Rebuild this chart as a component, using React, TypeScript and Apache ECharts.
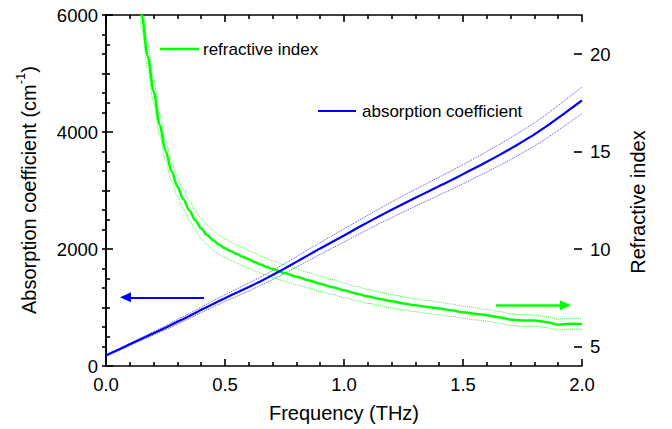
import React, { useEffect, useRef } from "react";
import * as echarts from "echarts";

// Absorption coefficient (cm^-1) vs frequency (THz)
const freqA = [0, 0.05, 0.1, 0.15, 0.2, 0.25, 0.3, 0.35, 0.4, 0.45, 0.5, 0.55, 0.6, 0.65, 0.7, 0.75, 0.8, 0.85, 0.9, 0.95, 1.0, 1.05, 1.1, 1.15, 1.2, 1.25, 1.3, 1.35, 1.4, 1.45, 1.5, 1.55, 1.6, 1.65, 1.7, 1.75, 1.8, 1.85, 1.9, 1.95, 2.0];
const absMain = [180, 275, 370, 465, 560, 655, 755, 855, 960, 1060, 1160, 1255, 1350, 1450, 1555, 1665, 1780, 1895, 2010, 2120, 2230, 2345, 2455, 2565, 2670, 2775, 2875, 2975, 3075, 3175, 3280, 3385, 3490, 3600, 3715, 3835, 3960, 4095, 4240, 4390, 4540];
const absUpper = [189, 289, 388, 488, 588, 688, 793, 898, 1008, 1113, 1218, 1318, 1418, 1522, 1633, 1748, 1869, 1990, 2110, 2226, 2342, 2462, 2578, 2693, 2804, 2914, 3019, 3124, 3229, 3334, 3444, 3554, 3665, 3780, 3901, 4027, 4158, 4300, 4452, 4610, 4767];
const absLower = [171, 261, 352, 442, 532, 622, 717, 812, 912, 1007, 1102, 1192, 1282, 1378, 1477, 1582, 1691, 1800, 1910, 2014, 2118, 2228, 2332, 2437, 2536, 2636, 2731, 2826, 2921, 3016, 3116, 3216, 3315, 3420, 3529, 3643, 3762, 3890, 4028, 4170, 4313];

// Refractive index vs frequency (THz)
const freqN = [0.14, 0.15, 0.175, 0.2, 0.225, 0.25, 0.275, 0.3, 0.325, 0.35, 0.375, 0.4, 0.425, 0.45, 0.475, 0.5, 0.525, 0.55, 0.575, 0.6, 0.625, 0.65, 0.675, 0.7, 0.75, 0.8, 0.85, 0.9, 0.95, 1.0, 1.05, 1.1, 1.15, 1.2, 1.25, 1.3, 1.35, 1.4, 1.45, 1.5, 1.55, 1.6, 1.65, 1.7, 1.75, 1.8, 1.85, 1.9, 1.95, 2.0];
const nMain = [23.2, 22.0, 19.9, 18.1, 16.4, 15.05, 14.0, 13.2, 12.55, 11.98, 11.48, 11.05, 10.72, 10.45, 10.22, 10.04, 9.88, 9.74, 9.6, 9.47, 9.33, 9.2, 9.08, 8.97, 8.77, 8.58, 8.4, 8.22, 8.05, 7.88, 7.72, 7.57, 7.44, 7.32, 7.21, 7.11, 7.03, 6.95, 6.86, 6.76, 6.68, 6.6, 6.5, 6.38, 6.33, 6.33, 6.25, 6.12, 6.17, 6.16];
const nUpper = [23.9, 22.7, 20.55, 18.7, 16.95, 15.57, 14.5, 13.7, 13.05, 12.48, 11.98, 11.57, 11.22, 10.95, 10.72, 10.52, 10.35, 10.2, 10.06, 9.92, 9.78, 9.64, 9.52, 9.4, 9.19, 8.99, 8.8, 8.61, 8.43, 8.25, 8.08, 7.93, 7.79, 7.66, 7.55, 7.44, 7.36, 7.27, 7.18, 7.07, 6.99, 6.9, 6.8, 6.67, 6.62, 6.62, 6.53, 6.4, 6.45, 6.44];
const nLower = [22.5, 21.3, 19.25, 17.5, 15.85, 14.53, 13.5, 12.7, 12.05, 11.48, 10.98, 10.53, 10.22, 9.95, 9.72, 9.56, 9.41, 9.28, 9.14, 9.02, 8.88, 8.76, 8.64, 8.54, 8.35, 8.17, 8.0, 7.83, 7.67, 7.51, 7.36, 7.21, 7.09, 6.98, 6.87, 6.78, 6.7, 6.63, 6.54, 6.45, 6.37, 6.3, 6.2, 6.09, 6.04, 6.04, 5.97, 5.84, 5.89, 5.88];

const rightMajorTicks = [5, 10, 15, 20];
const seriesNames = ["refractive index", "absorption coefficient"];
// arrows: [fromX, toX, y]
const absArrow = [0.412, 0.082, 1174];
const nArrow = [1.638, 1.931, 7.11];

const FONT = "'Liberation Sans', Arial, Helvetica, sans-serif";
const GREEN = "#00ff00";
const BLUE = "#0000ff";

const pairs = (xs: number[], ys: number[]) => xs.map((x, i) => [x, ys[i]]);

export default function App() {
  const ref = useRef<HTMLDivElement>(null);
  useEffect(() => {
    document.body.style.margin = "0";
    const chart = echarts.init(ref.current!, null, { renderer: "svg" });
    const axisLineStyle = { color: "#000", width: 1.6 };
    const labelStyle = { color: "#000", fontSize: 18.5, fontFamily: FONT };
    const xCommon = {
      type: "value",
      min: 0,
      max: 2,
      interval: 0.5,
      axisLine: { show: true, lineStyle: axisLineStyle },
      axisTick: { show: true, inside: true, length: 7, lineStyle: axisLineStyle },
      minorTick: { show: true, splitNumber: 5, length: 4, lineStyle: axisLineStyle },
      splitLine: { show: false },
      minorSplitLine: { show: false },
    };
    const greenLine = { type: "line", xAxisIndex: 0, showSymbol: false, smooth: 0.3, smoothMonotone: "x" };
    const blueLine = { type: "line", xAxisIndex: 0, showSymbol: false, smooth: 0.2 };
    const option: any = {
      animation: false,
      backgroundColor: "#fff",
      grid: { left: 106, right: 90, top: 15, bottom: 63, containLabel: false, outerBoundsMode: "none" },
      xAxis: [
        {
          ...xCommon,
          position: "bottom",
          axisLabel: { ...labelStyle, margin: 9, formatter: (v: number) => v.toFixed(1) },
        },
        { ...xCommon, position: "top", axisLabel: { show: false } },
      ],
      yAxis: [
        {
          type: "value",
          position: "left",
          min: 0,
          max: 6000,
          interval: 2000,
          axisLine: { show: true, lineStyle: axisLineStyle },
          axisTick: { show: true, inside: true, length: 7, lineStyle: axisLineStyle },
          minorTick: { show: true, splitNumber: 4, length: 4, lineStyle: axisLineStyle },
          axisLabel: { ...labelStyle, margin: 8, formatter: (v: number) => String(v) },
          splitLine: { show: false },
          minorSplitLine: { show: false },
        },
        {
          type: "value",
          position: "right",
          min: 4,
          max: 22,
          interval: 1,
          axisLine: { show: true, lineStyle: axisLineStyle },
          axisTick: { show: true, inside: true, length: 4, lineStyle: axisLineStyle },
          axisLabel: {
            ...labelStyle,
            margin: 8,
            formatter: (v: number) => (rightMajorTicks.includes(v) ? String(v) : ""),
          },
          splitLine: { show: false },
        },
        {
          type: "value",
          position: "right",
          min: 4,
          max: 22,
          axisLine: { show: false },
          axisTick: { show: true, inside: true, length: 8, lineStyle: axisLineStyle, customValues: rightMajorTicks },
          axisLabel: { show: false },
          splitLine: { show: false },
        },
      ],
      series: [
        {
          ...greenLine, yAxisIndex: 1, data: pairs(freqN, nUpper), silent: true,
          lineStyle: { color: GREEN, width: 1, type: "dotted", opacity: 0.8 },
        },
        {
          ...greenLine, yAxisIndex: 1, data: pairs(freqN, nLower), silent: true,
          lineStyle: { color: GREEN, width: 1, type: "dotted", opacity: 0.8 },
        },
        {
          ...blueLine, yAxisIndex: 0, data: pairs(freqA, absUpper), silent: true,
          lineStyle: { color: BLUE, width: 1, type: "dotted", opacity: 0.7 },
        },
        {
          ...blueLine, yAxisIndex: 0, data: pairs(freqA, absLower), silent: true,
          lineStyle: { color: BLUE, width: 1, type: "dotted", opacity: 0.7 },
        },
        {
          ...greenLine, name: seriesNames[0], yAxisIndex: 1, data: pairs(freqN, nMain),
          lineStyle: { color: GREEN, width: 2.5 }, itemStyle: { color: GREEN },
          markLine: {
            silent: true, symbol: ["none", "triangle"], symbolSize: [10, 11],
            label: { show: false },
            lineStyle: { color: GREEN, width: 2.5, type: "solid" },
            itemStyle: { color: GREEN },
            data: [[{ coord: [nArrow[0], nArrow[2]] }, { coord: [nArrow[1], nArrow[2]] }]],
          },
        },
        {
          ...blueLine, name: seriesNames[1], yAxisIndex: 0, data: pairs(freqA, absMain),
          lineStyle: { color: BLUE, width: 2.2 }, itemStyle: { color: BLUE },
          markLine: {
            silent: true, symbol: ["none", "triangle"], symbolSize: [10, 11],
            label: { show: false },
            lineStyle: { color: BLUE, width: 2.2, type: "solid" },
            itemStyle: { color: BLUE },
            data: [[{ coord: [absArrow[0], absArrow[2]] }, { coord: [absArrow[1], absArrow[2]] }]],
          },
        },
      ],
      graphic: [
        { type: "line", shape: { x1: 160, y1: 49, x2: 199, y2: 49 }, style: { stroke: GREEN, lineWidth: 2.5 } },
        {
          type: "text", x: 203, y: 49,
          style: { text: seriesNames[0], fill: "#000", fontSize: 17, fontFamily: FONT, align: "left", verticalAlign: "middle" },
        },
        { type: "line", shape: { x1: 318, y1: 111, x2: 356, y2: 111 }, style: { stroke: BLUE, lineWidth: 2.2 } },
        {
          type: "text", x: 362, y: 111,
          style: { text: seriesNames[1], fill: "#000", fontSize: 17, fontFamily: FONT, align: "left", verticalAlign: "middle" },
        },
        {
          type: "text", x: 344, y: 413,
          style: { text: "Frequency (THz)", fill: "#000", fontSize: 20, fontFamily: FONT, align: "center", verticalAlign: "middle" },
        },
        {
          type: "text", x: 638, y: 202, rotation: Math.PI / 2,
          style: { text: "Refractive index", fill: "#000", fontSize: 20, fontFamily: FONT, align: "center", verticalAlign: "middle" },
        },
        {
          type: "text", x: 29, y: 190, rotation: Math.PI / 2,
          style: {
            text: "{a|Absorption coefficient (cm}{s|-1}{a|)}",
            align: "center",
            verticalAlign: "middle",
            rich: {
              a: { fontSize: 20, fontFamily: FONT, fill: "#000", lineHeight: 30 },
              s: { fontSize: 13, fontFamily: FONT, fill: "#000", lineHeight: 12, verticalAlign: "top" },
            },
          },
        },
      ],
    };
    chart.setOption(option);
    return () => chart.dispose();
  }, []);
  return (
    <div
      ref={ref}
      style={{ width: 672, height: 429, position: "fixed", left: 0, top: 0, background: "#fff" }}
    />
  );
}
